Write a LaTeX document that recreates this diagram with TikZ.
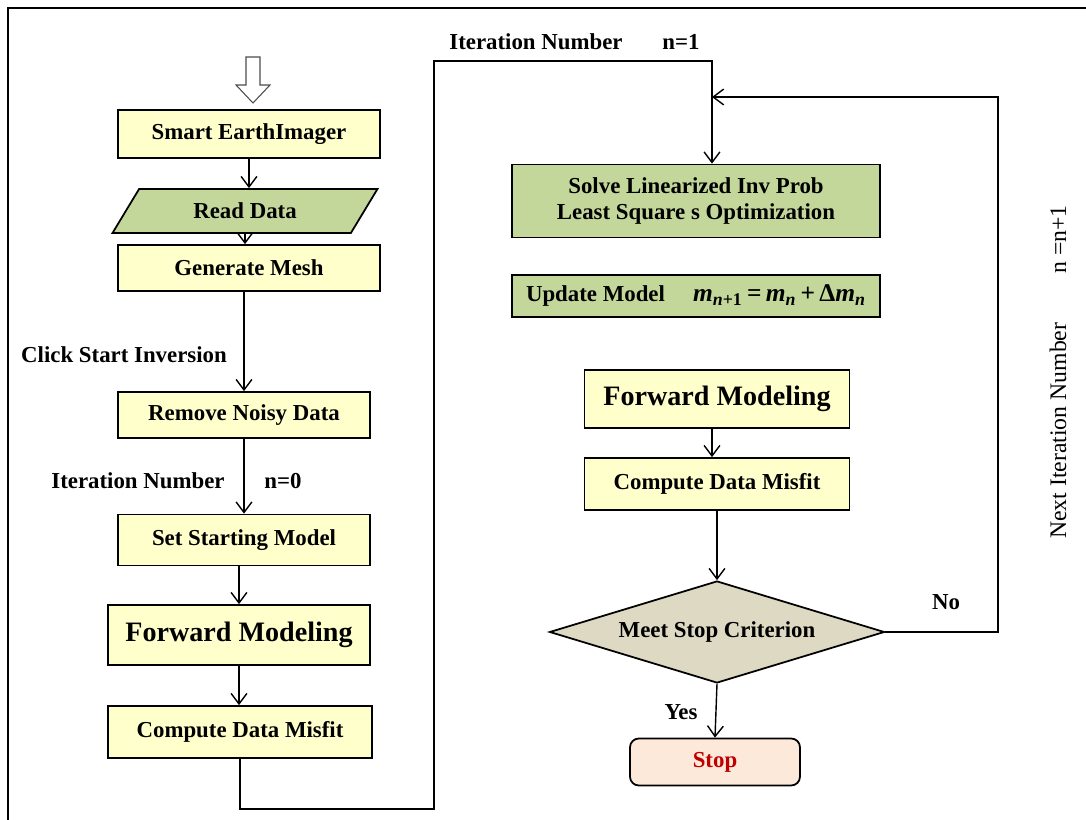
\documentclass[tikz,border=0pt]{standalone}
\usepackage{fontspec}
\setmainfont{Liberation Serif}
\usetikzlibrary{shapes.geometric,arrows.meta}
\definecolor{boxyellow}{RGB}{255,255,204}
\definecolor{boxgreen}{RGB}{196,215,155}
\definecolor{boxtan}{RGB}{221,217,195}
\definecolor{boxpeach}{RGB}{253,233,217}
\definecolor{stopred}{RGB}{192,0,0}
\newcommand{\mv}{\textbf{\textit{m}}}
\begin{document}
\begin{tikzpicture}[x=0.02cm,y=-0.02cm,
  box/.style={draw,line width=1pt,font=\bfseries\fontsize{13}{15}\selectfont,inner sep=2pt},
  ybox/.style={box,fill=boxyellow},
  gbox/.style={box,fill=boxgreen},
  big/.style={font=\bfseries\fontsize{16}{19}\selectfont},
  lbl/.style={font=\bfseries\fontsize{13}{15}\selectfont},
  >={Straight Barb[length=6pt,width=9pt]}]
\useasboundingbox (0,0) rectangle (1086,820);
\draw[line width=0.8pt] (8,820) -- (8,8) -- (1086,8);
% hollow start arrow
\draw[gray!60!black,fill=white,line width=0.6pt] (246,57) -- (260,57) -- (260,85) -- (270,85)
  -- (253,103) -- (236,85) -- (246,85) -- cycle;
% left column
\node[ybox,minimum width=5.24cm,minimum height=0.96cm] (seimg) at (249,134) {Smart EarthImager};
\node[box,fill=boxgreen,trapezium,trapezium left angle=41,trapezium right angle=139,
  minimum width=5.3cm,minimum height=0.88cm,trapezium stretches body] (readdata) at (245,211) {Read Data};
\node[ybox,minimum width=5.24cm,minimum height=0.92cm] (mesh) at (249,268) {Generate Mesh};
\node[ybox,minimum width=5.04cm,minimum height=0.92cm] (noisy) at (244,415) {Remove Noisy Data};
\node[ybox,minimum width=5.04cm,minimum height=1.02cm] (start) at (244,540) {Set Starting Model};
\node[ybox,big,minimum width=5.24cm,minimum height=1.2cm] (fwdone) at (239,635) {Forward Modeling};
\node[ybox,minimum width=5.28cm,minimum height=1.04cm] (misfitone) at (240,732) {Compute Data Misfit};
% right column
\node[gbox,minimum width=7.36cm,minimum height=1.46cm,align=center] (solve) at (696,201)
  {Solve Linearized Inv Prob\\Least Square s Optimization};
\node[gbox,minimum width=7.36cm,minimum height=0.84cm] (update) at (696,296)
  {Update Model\hspace{16pt}{\fontsize{14.5}{17}\selectfont\mv\textsubscript{\textit{n}+1}\,=\,\mv\textsubscript{\textit{n}}\,+\,Δ\mv\textsubscript{\textit{n}}}};
\node[ybox,big,minimum width=5.3cm,minimum height=1.16cm] (fwdtwo) at (717,399) {Forward Modeling};
\node[ybox,minimum width=5.3cm,minimum height=1.04cm] (misfittwo) at (717,484) {Compute Data Misfit};
\node[box,fill=boxtan,diamond,aspect=3.3,minimum width=6.7cm,minimum height=2.04cm,inner sep=0pt] (crit) at (717,632)
  {Meet Stop Criterion};
\node[box,fill=boxpeach,rounded corners=5pt,minimum width=3.4cm,minimum height=0.94cm,
  text=stopred] (stop) at (715,762) {Stop};
% labels
\node[lbl] (click) at (124,355) {Click Start Inversion};
\node[lbl] (itzero) at (138,481) {Iteration Number};
\node[lbl] (nzero) at (283,481) {n=0};
\node[lbl] (itone) at (536,42) {Iteration Number};
\node[lbl] (none) at (681,42) {n=1};
\node[lbl] (no) at (946,602) {No};
\node[lbl] (yes) at (681,712) {Yes};
\node[rotate=90,font=\fontsize{13.5}{15}\selectfont] (nextit) at (1058,372)
  {Next Iteration Number\hspace{28pt}n =n+1};
\coordinate (joint) at (712,97);
% connectors
\path[draw,line width=0.8pt,->] (seimg.south) -- (seimg.south |- readdata.north);
\path[draw,line width=0.8pt,->] (readdata.south) -- (readdata.south |- mesh.north);
\path[draw,line width=0.8pt,->] (mesh.south -| noisy.north) -- (noisy.north);
\path[draw,line width=0.8pt,->] (noisy.south) -- (noisy.south |- start.north);
\path[draw,line width=0.8pt,->] (start.south -| fwdone.north) -- (fwdone.north);
\path[draw,line width=0.8pt,->] (fwdone.south) -- (fwdone.south |- misfitone.north);
\path[draw,line width=0.8pt,->] (misfitone.south) -- ++(0,50) -| (434,61) -| (solve.north -| joint);
\path[draw,line width=0.8pt,->] (fwdtwo.south -| joint) -- (misfittwo.north -| joint);
\path[draw,line width=0.8pt,->] (misfittwo.south) -- (crit.north);
\path[draw,line width=0.8pt,->] (crit.south) -- (stop.north);
\path[draw,line width=0.8pt,->] (crit.east) -- (998,632) -- (998,97) -- (joint);
\end{tikzpicture}
\end{document}
